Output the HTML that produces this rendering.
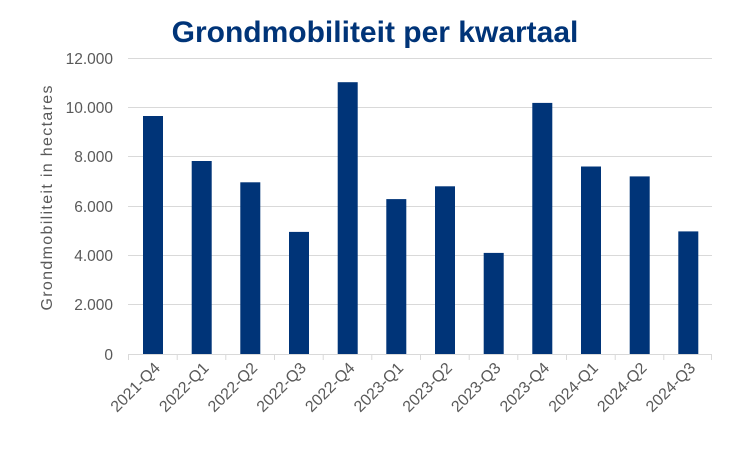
<!DOCTYPE html>
<html><head><meta charset="utf-8"><style>
html,body{margin:0;padding:0;background:#fff;}
svg{display:block;font-family:"Liberation Sans",Arial,sans-serif;}
</style></head><body>
<svg width="750" height="465" viewBox="0 0 750 465" xmlns="http://www.w3.org/2000/svg">
<text x="375" y="42" text-anchor="middle" font-size="30" font-weight="bold" fill="#003478">Grondmobiliteit per kwartaal</text>
<g stroke="#d9d9d9" stroke-width="1">
<line x1="128" x2="712" y1="58.5" y2="58.5"/>
<line x1="128" x2="712" y1="107.5" y2="107.5"/>
<line x1="128" x2="712" y1="156.5" y2="156.5"/>
<line x1="128" x2="712" y1="206.5" y2="206.5"/>
<line x1="128" x2="712" y1="255.5" y2="255.5"/>
<line x1="128" x2="712" y1="304.5" y2="304.5"/>
<line x1="128" x2="712" y1="354.5" y2="354.5"/>
</g>
<g stroke="#d9d9d9" stroke-width="1">
<line x1="128.5" x2="128.5" y1="354" y2="360"/><line x1="177.2" x2="177.2" y1="354" y2="360"/><line x1="225.8" x2="225.8" y1="354" y2="360"/><line x1="274.5" x2="274.5" y1="354" y2="360"/><line x1="323.2" x2="323.2" y1="354" y2="360"/><line x1="371.8" x2="371.8" y1="354" y2="360"/><line x1="420.5" x2="420.5" y1="354" y2="360"/><line x1="469.2" x2="469.2" y1="354" y2="360"/><line x1="517.8" x2="517.8" y1="354" y2="360"/><line x1="566.5" x2="566.5" y1="354" y2="360"/><line x1="615.2" x2="615.2" y1="354" y2="360"/><line x1="663.8" x2="663.8" y1="354" y2="360"/><line x1="711.5" x2="711.5" y1="354" y2="360"/>
</g>
<g font-size="15.5" fill="#595959" text-anchor="end">
<text x="113" y="64">12.000</text>
<text x="113" y="113">10.000</text>
<text x="113" y="162">8.000</text>
<text x="113" y="212">6.000</text>
<text x="113" y="261">4.000</text>
<text x="113" y="310">2.000</text>
<text x="113" y="360">0</text>
</g>
<text transform="translate(52,198) rotate(-90)" text-anchor="middle" font-size="16" fill="#595959" textLength="225">Grondmobiliteit in hectares</text>
<g fill="#003478">
<rect x="143" y="116" width="20" height="238"/>
<rect x="191.7" y="161" width="20" height="193"/>
<rect x="240.3" y="182.3" width="20" height="171.7"/>
<rect x="289" y="231.9" width="20" height="122.1"/>
<rect x="337.7" y="82.2" width="20" height="271.8"/>
<rect x="386.3" y="199.1" width="20" height="154.9"/>
<rect x="435" y="186.3" width="20" height="167.7"/>
<rect x="483.7" y="252.9" width="20" height="101.1"/>
<rect x="532.3" y="102.9" width="20" height="251.1"/>
<rect x="581" y="166.5" width="20" height="187.5"/>
<rect x="629.7" y="176.4" width="20" height="177.6"/>
<rect x="678.3" y="231.4" width="20" height="122.6"/>
</g>
<g font-size="16" fill="#595959" text-anchor="end">
<text transform="translate(161,369) rotate(-45)">2021-Q4</text>
<text transform="translate(209.7,369) rotate(-45)">2022-Q1</text>
<text transform="translate(258.3,369) rotate(-45)">2022-Q2</text>
<text transform="translate(307,369) rotate(-45)">2022-Q3</text>
<text transform="translate(355.7,369) rotate(-45)">2022-Q4</text>
<text transform="translate(404.3,369) rotate(-45)">2023-Q1</text>
<text transform="translate(453,369) rotate(-45)">2023-Q2</text>
<text transform="translate(501.7,369) rotate(-45)">2023-Q3</text>
<text transform="translate(550.3,369) rotate(-45)">2023-Q4</text>
<text transform="translate(599,369) rotate(-45)">2024-Q1</text>
<text transform="translate(647.7,369) rotate(-45)">2024-Q2</text>
<text transform="translate(696.3,369) rotate(-45)">2024-Q3</text>
</g>
</svg>
</body></html>
